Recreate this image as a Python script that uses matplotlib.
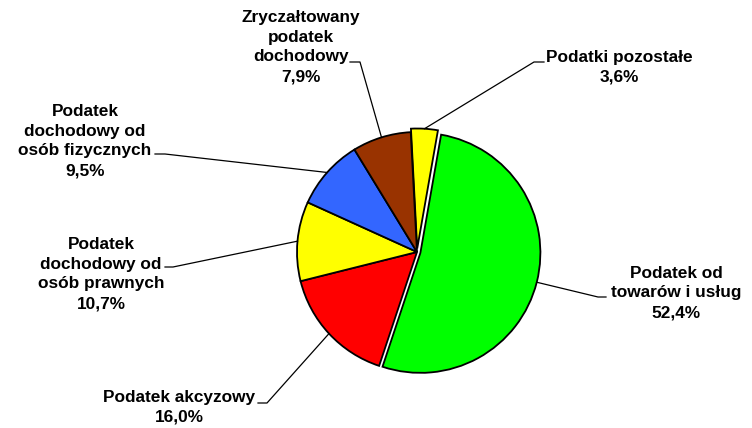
import numpy as np
import matplotlib.pyplot as plt

# slices, clockwise from the top
labels = ['Podatki pozostałe',
          'Podatek od\ntowarów i usług',
          'Podatek akcyzowy',
          'Podatek\ndochodowy od\nosób prawnych',
          'Podatek\ndochodowy od\nosób fizycznych',
          'Zryczałtowany\npodatek\ndochodowy']
shares = [3.6, 52.4, 16.0, 10.7, 9.5, 7.9]
colors = ['#FFFF00', '#00FF00', '#FF0000', '#FFFF00', '#3366FF', '#993300']
explode = [3.5, 3.5, 0, 0, 0, 0]  # px

# label layout in pixels (top-left origin): text centre and leader stub (outer, inner)
W, H = 752, 428
label_xy = [(619, 67), (676, 293), (179, 407), (101, 274), (85, 141), (301, 47)]
stubs = [((544, 62), (534, 62)),
         ((606, 297), (598, 297)),
         ((258, 403), (267, 403)),
         ((165, 267), (173, 267)),
         ((155, 154), (165, 154)),
         ((350, 62), (360, 62))]

fig = plt.figure(figsize=(W / 100, H / 100), dpi=100)
ax = fig.add_axes([0, 0, 1, 1])

wedges, _ = ax.pie(shares, colors=colors, explode=explode, startangle=93,
                   counterclock=False, center=(417, H - 252), radius=120,
                   wedgeprops=dict(edgecolor='black', linewidth=1.3))

for w, lab, v, (tx, ty), (s0, s1) in zip(wedges, labels, shares, label_xy, stubs):
    mid = np.deg2rad((w.theta1 + w.theta2) / 2)
    cx, cy = w.center
    px, py = cx + w.r * np.cos(mid), cy + w.r * np.sin(mid)
    ax.plot([s0[0], s1[0], px], [H - s0[1], H - s1[1], py], color='black', lw=0.9)
    txt = lab + '\n' + f'{v:.1f}%'.replace('.', ',')
    ax.text(tx, H - ty, txt, ha='center', va='center', multialignment='center',
            fontsize=12.4, fontweight='bold', family='Liberation Sans', linespacing=1.4)

ax.set_xlim(0, W)
ax.set_ylim(0, H)
ax.set_aspect('equal')
ax.axis('off')

fig.savefig('out.png', dpi=100)
